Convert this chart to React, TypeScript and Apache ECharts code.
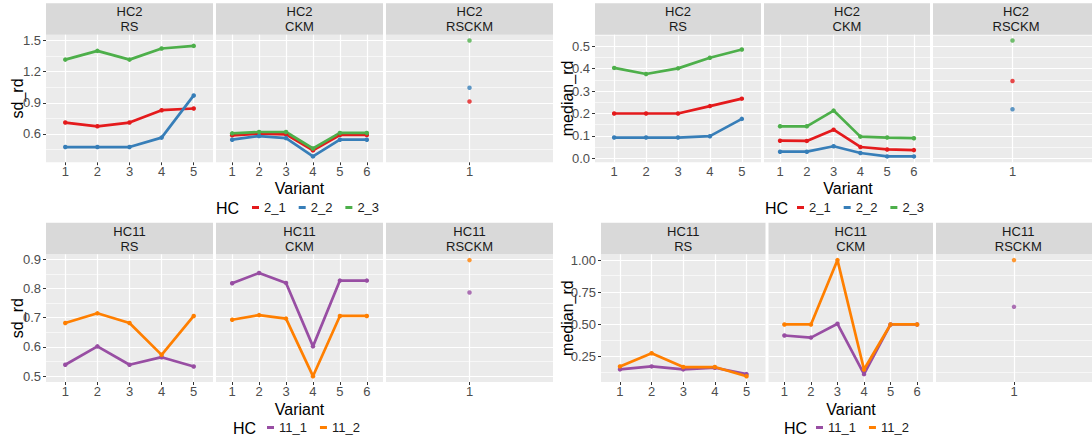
import React, { useEffect, useRef } from "react";
import * as echarts from "echarts";

const FONT = "'Liberation Sans', Arial, Helvetica, sans-serif";

// ---------- categories ----------
const rsVariants = [1, 2, 3, 4, 5];
const ckmVariants = [1, 2, 3, 4, 5, 6];
const rsckmVariants = [1];
const methods = ["RS", "CKM", "RSCKM"];

const hc2Names = ["2_1", "2_2", "2_3"];
const hc11Names = ["11_1", "11_2"];
const hc2Colors = ["#E41A1C", "#377EB8", "#4DAF4A"];
const hc11Colors = ["#984EA3", "#FF7F00"];

// ---------- sd_rd, HC2 ----------
const sdHC2_RS_2_1 = [0.71, 0.674, 0.71, 0.829, 0.845];
const sdHC2_RS_2_2 = [0.474, 0.474, 0.474, 0.565, 0.971];
const sdHC2_RS_2_3 = [1.316, 1.4, 1.316, 1.423, 1.448];
const sdHC2_CKM_2_1 = [0.587, 0.603, 0.597, 0.442, 0.59, 0.59];
const sdHC2_CKM_2_2 = [0.545, 0.58, 0.56, 0.384, 0.545, 0.545];
const sdHC2_CKM_2_3 = [0.606, 0.619, 0.619, 0.46, 0.61, 0.61];
const sdHC2_RSCKM_2_1 = [0.913];
const sdHC2_RSCKM_2_2 = [1.045];
const sdHC2_RSCKM_2_3 = [1.5];

// ---------- median_rd, HC2 ----------
const medHC2_RS_2_1 = [0.2, 0.2, 0.2, 0.233, 0.266];
const medHC2_RS_2_2 = [0.093, 0.093, 0.093, 0.099, 0.176];
const medHC2_RS_2_3 = [0.403, 0.376, 0.401, 0.448, 0.485];
const medHC2_CKM_2_1 = [0.079, 0.078, 0.128, 0.051, 0.04, 0.037];
const medHC2_CKM_2_2 = [0.03, 0.03, 0.054, 0.024, 0.009, 0.009];
const medHC2_CKM_2_3 = [0.143, 0.143, 0.213, 0.097, 0.093, 0.09];
const medHC2_RSCKM_2_1 = [0.345];
const medHC2_RSCKM_2_2 = [0.219];
const medHC2_RSCKM_2_3 = [0.525];

// ---------- sd_rd, HC11 ----------
const sdHC11_RS_11_1 = [0.539, 0.602, 0.539, 0.565, 0.533];
const sdHC11_RS_11_2 = [0.682, 0.715, 0.682, 0.573, 0.706];
const sdHC11_CKM_11_1 = [0.818, 0.853, 0.819, 0.602, 0.827, 0.827];
const sdHC11_CKM_11_2 = [0.693, 0.709, 0.697, 0.5, 0.706, 0.706];
const sdHC11_RSCKM_11_1 = [0.786];
const sdHC11_RSCKM_11_2 = [0.897];

// ---------- median_rd, HC11 ----------
const medHC11_RS_11_1 = [0.151, 0.174, 0.151, 0.164, 0.114];
const medHC11_RS_11_2 = [0.174, 0.276, 0.169, 0.169, 0.098];
const medHC11_CKM_11_1 = [0.414, 0.398, 0.505, 0.114, 0.5, 0.5];
const medHC11_CKM_11_2 = [0.5, 0.5, 1.0, 0.15, 0.5, 0.5];
const medHC11_RSCKM_11_1 = [0.637];
const medHC11_RSCKM_11_2 = [1.0];

// ---------- tick labels ----------
const sdHC2Ticks = [0.6, 0.9, 1.2, 1.5];
const medHC2Ticks = [0.0, 0.1, 0.2, 0.3, 0.4, 0.5];
const sdHC11Ticks = [0.5, 0.6, 0.7, 0.8, 0.9];
const medHC11Ticks = [0.25, 0.5, 0.75, 1.0];

type Block = {
  yName: string;
  hc: string;
  names: string[];
  colors: string[];
  ticks: number[];
  decimals: number;
  facets: { variants: number[]; series: number[][] }[];
  lefts: number[];
  width: number;
  top: number;
  height: number;
  stripTop: number;
  stripH: number;
  yTitleX: number;
  variantX: number;
  variantY: number;
  hcX: number;
  legendLeft: number;
  legendY: number;
};

const blocks: Block[] = [
  {
    yName: "sd_rd", hc: "HC2", names: hc2Names, colors: hc2Colors, ticks: sdHC2Ticks, decimals: 1,
    facets: [
      { variants: rsVariants, series: [sdHC2_RS_2_1, sdHC2_RS_2_2, sdHC2_RS_2_3] },
      { variants: ckmVariants, series: [sdHC2_CKM_2_1, sdHC2_CKM_2_2, sdHC2_CKM_2_3] },
      { variants: rsckmVariants, series: [sdHC2_RSCKM_2_1, sdHC2_RSCKM_2_2, sdHC2_RSCKM_2_3] },
    ],
    lefts: [46, 216, 386], width: 167, top: 34.7, height: 127.5, stripTop: 3.3, stripH: 31.4,
    yTitleX: 17, variantX: 299.5, variantY: 188, hcX: 216, legendLeft: 252, legendY: 208.5,
  },
  {
    yName: "median_rd", hc: "HC2", names: hc2Names, colors: hc2Colors, ticks: medHC2Ticks, decimals: 1,
    facets: [
      { variants: rsVariants, series: [medHC2_RS_2_1, medHC2_RS_2_2, medHC2_RS_2_3] },
      { variants: ckmVariants, series: [medHC2_CKM_2_1, medHC2_CKM_2_2, medHC2_CKM_2_3] },
      { variants: rsckmVariants, series: [medHC2_RSCKM_2_1, medHC2_RSCKM_2_2, medHC2_RSCKM_2_3] },
    ],
    lefts: [595, 764, 933], width: 166, top: 34.7, height: 127.5, stripTop: 3.3, stripH: 31.4,
    yTitleX: 567, variantX: 848, variantY: 188, hcX: 765, legendLeft: 797, legendY: 208.5,
  },
  {
    yName: "sd_rd", hc: "HC11", names: hc11Names, colors: hc11Colors, ticks: sdHC11Ticks, decimals: 1,
    facets: [
      { variants: rsVariants, series: [sdHC11_RS_11_1, sdHC11_RS_11_2] },
      { variants: ckmVariants, series: [sdHC11_CKM_11_1, sdHC11_CKM_11_2] },
      { variants: rsckmVariants, series: [sdHC11_RSCKM_11_1, sdHC11_RSCKM_11_2] },
    ],
    lefts: [46, 216, 386], width: 167, top: 254.3, height: 127.7, stripTop: 222.7, stripH: 31.6,
    yTitleX: 17, variantX: 299.5, variantY: 409, hcX: 233, legendLeft: 267, legendY: 428.5,
  },
  {
    yName: "median_rd", hc: "HC11", names: hc11Names, colors: hc11Colors, ticks: medHC11Ticks, decimals: 2,
    facets: [
      { variants: rsVariants, series: [medHC11_RS_11_1, medHC11_RS_11_2] },
      { variants: ckmVariants, series: [medHC11_CKM_11_1, medHC11_CKM_11_2] },
      { variants: rsckmVariants, series: [medHC11_RSCKM_11_1, medHC11_RSCKM_11_2] },
    ],
    lefts: [601, 768.5, 936], width: 164.5, top: 254.3, height: 127.7, stripTop: 222.7, stripH: 31.6,
    yTitleX: 567, variantX: 851, variantY: 409, hcX: 784, legendLeft: 816, legendY: 428.5,
  },
];

function buildOption() {
  const grid: any[] = [];
  const xAxis: any[] = [];
  const yAxis: any[] = [];
  const series: any[] = [];
  const legend: any[] = [];
  const graphic: any[] = [];

  blocks.forEach((b) => {
    let lo = Infinity;
    let hi = -Infinity;
    b.facets.forEach((f) => f.series.forEach((s) => s.forEach((v) => { lo = Math.min(lo, v); hi = Math.max(hi, v); })));
    const pad = (hi - lo) * 0.05;
    const yMin = lo - pad;
    const yMax = hi + pad;
    const step = b.ticks[1] - b.ticks[0];
    const minors: number[] = [];
    for (let k = -1; k < b.ticks.length; k++) {
      const m = b.ticks[0] + step * (k + 0.5);
      if (m > yMin && m < yMax) minors.push(m);
    }

    b.facets.forEach((f, p) => {
      const gi = grid.length;
      const left = b.lefts[p];
      grid.push({
        left, top: b.top, width: b.width, height: b.height,
        show: true, backgroundColor: "#EBEBEB", borderWidth: 0,
      });
      const n = f.variants.length;
      xAxis.push({
        type: "value", gridIndex: gi, min: 0.4, max: n + 0.6,
        axisLine: { show: false },
        splitLine: { show: false },
        axisTick: { show: true, length: 3, lineStyle: { color: "#333333", width: 1 }, customValues: f.variants },
        axisLabel: {
          customValues: f.variants, color: "#4D4D4D", fontSize: 13, margin: 3, fontFamily: FONT,
          formatter: (v: number) => String(Math.round(v)),
        },
      });
      yAxis.push({
        type: "value", gridIndex: gi, min: yMin, max: yMax,
        axisLine: { show: false },
        splitLine: { show: false },
        axisTick: { show: p === 0, length: 3, lineStyle: { color: "#333333", width: 1 }, customValues: b.ticks },
        axisLabel: {
          show: p === 0, customValues: b.ticks, color: "#4D4D4D", fontSize: 13, margin: 5, fontFamily: FONT,
          formatter: (v: number) => v.toFixed(b.decimals),
        },
      });

      const gridLines = [
        ...minors.map((v) => ({ yAxis: v, lineStyle: { color: "#FFFFFF", width: 0.6, type: "solid" } })),
        ...b.ticks.map((v) => ({ yAxis: v, lineStyle: { color: "#FFFFFF", width: 1.2, type: "solid" } })),
        ...f.variants.map((v) => ({ xAxis: v, lineStyle: { color: "#FFFFFF", width: 1.2, type: "solid" } })),
      ];

      f.series.forEach((vals, si) => {
        const data = vals.map((v, i) => [f.variants[i], v]);
        const base: any = {
          name: b.names[si],
          xAxisIndex: gi,
          yAxisIndex: gi,
          data,
          itemStyle: { color: b.colors[si] },
          z: 3,
          silent: true,
        };
        if (si === 0) {
          base.markLine = {
            silent: true, z: 1, symbol: ["none", "none"], label: { show: false },
            emphasis: { disabled: true }, animation: false, data: gridLines,
          };
        }
        if (n === 1) {
          series.push({ ...base, type: "scatter", symbol: "circle", symbolSize: 4.5 });
        } else {
          series.push({
            ...base, type: "line", symbol: "circle", symbolSize: 4.5, showSymbol: true,
            lineStyle: { color: b.colors[si], width: 2.7 },
          });
        }
      });

      // strip
      graphic.push({
        type: "rect", silent: true,
        shape: { x: left, y: b.stripTop, width: b.width, height: b.stripH },
        style: { fill: "#D9D9D9" },
      });
      graphic.push({
        type: "text", silent: true, x: left + b.width / 2, y: b.stripTop + b.stripH / 2 - 7.5,
        style: { text: b.hc, fill: "#1A1A1A", font: `13px ${FONT}`, align: "center", verticalAlign: "middle" },
      });
      graphic.push({
        type: "text", silent: true, x: left + b.width / 2, y: b.stripTop + b.stripH / 2 + 7.5,
        style: { text: methods[p], fill: "#1A1A1A", font: `13px ${FONT}`, align: "center", verticalAlign: "middle" },
      });
    });

    // y-axis title
    graphic.push({
      type: "text", silent: true, x: b.yTitleX, y: b.top + b.height / 2, rotation: Math.PI / 2,
      style: { text: b.yName, fill: "#000000", font: `16px ${FONT}`, align: "center", verticalAlign: "middle" },
    });
    // x-axis title
    graphic.push({
      type: "text", silent: true, x: b.variantX, y: b.variantY,
      style: { text: "Variant", fill: "#000000", font: `16px ${FONT}`, align: "center", verticalAlign: "middle" },
    });
    // legend title
    graphic.push({
      type: "text", silent: true, x: b.hcX, y: b.legendY,
      style: { text: "HC", fill: "#000000", font: `16px ${FONT}`, align: "left", verticalAlign: "middle" },
    });
    legend.push({
      data: b.names.map((nm) => ({ name: nm, icon: "rect" })),
      left: b.legendLeft, top: b.legendY - 7.5, padding: 0, orient: "horizontal",
      itemWidth: 7, itemHeight: 3, itemGap: 13, selectedMode: false,
      textStyle: { fontSize: 13, color: "#1A1A1A", fontFamily: FONT },
    });
  });

  return {
    animation: false,
    backgroundColor: "#FFFFFF",
    textStyle: { fontFamily: FONT },
    grid, xAxis, yAxis, series, legend, graphic,
  };
}

export default function App() {
  const ref = useRef<HTMLDivElement>(null);
  useEffect(() => {
    if (!ref.current) return;
    const chart = echarts.init(ref.current, undefined, { renderer: "svg" });
    chart.setOption(buildOption() as any);
    return () => chart.dispose();
  }, []);
  return (
    <div
      ref={ref}
      style={{ position: "fixed", left: 0, top: 0, width: 1092, height: 443, background: "#fff" }}
    />
  );
}
